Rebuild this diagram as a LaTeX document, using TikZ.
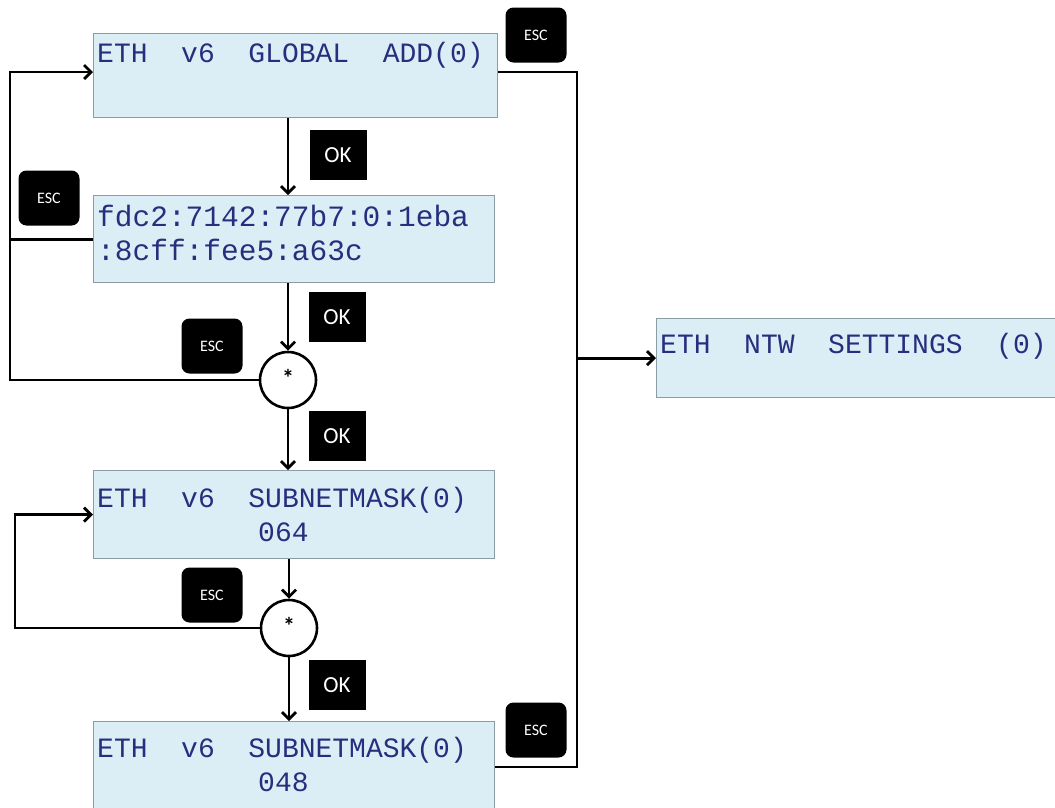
\documentclass[tikz,border=0pt]{standalone}
\usepackage{fontspec}
\setmainfont{Carlito}
\newfontfamily\lcdfont{Liberation Mono}
\usetikzlibrary{arrows.meta,calc}
\definecolor{lcdfill}{HTML}{DCEEF5}
\definecolor{lcdborder}{HTML}{8C9CA4}
\definecolor{lcdtext}{HTML}{262E7E}
\begin{document}
\begin{tikzpicture}[x=1pt,y=-1pt,
 lcdbox/.style={rectangle, draw=lcdborder, fill=lcdfill, line width=1.3pt, minimum width=401pt, inner sep=0pt, anchor=north west},
 lcdtxt/.style={text=lcdtext, font=\lcdfont\fontsize{28}{30}\selectfont, anchor=base west, inner sep=0pt},
 lcdtxtb/.style={lcdtxt, font=\lcdfont\fontsize{29.5}{30}\selectfont},
 esckey/.style={fill=black, rounded corners=8pt, minimum width=61pt, minimum height=55pt, text=white, font=\fontsize{16}{17}\selectfont, inner sep=0pt},
 okkey/.style={fill=black, minimum width=57pt, minimum height=50pt, text=white, font=\fontsize{23}{24}\selectfont, inner sep=0pt},
 joint/.style={circle, draw=black, line width=2.6pt, fill=white, minimum size=56pt, inner sep=0pt},
 star/.style={font=\bfseries\fontsize{24}{24}\selectfont, inner sep=0pt},
 conn/.style={line width=2.8pt, draw=black},
 arr/.style={conn, -{Straight Barb[length=7pt,width=14pt,line width=2.8pt]}}
]
\useasboundingbox (0,0) rectangle (1055,807);
\clip (0,0) rectangle (1055,807);

% LCD boxes
\node[lcdbox, minimum width=404pt, minimum height=84pt] (b1) at (93,33) {};
\node[lcdbox, minimum height=87pt] (b2) at (93,195) {};
\node[lcdbox, minimum height=88pt] (b3) at (93,470) {};
\node[lcdbox, minimum height=100pt] (b5) at (93,721) {};
\node[lcdbox, minimum width=420pt, minimum height=79pt] (ntw) at (656,318) {};

% LCD texts
\node[lcdtxt] (t1) at (97,62) {ETH~~v6~~GLOBAL~~ADD(0)};
\node[lcdtxtb] (t2a) at (97,226) {fdc2:7142:77b7:0:1eba};
\node[lcdtxtb] (t2b) at (97,260) {:8cff:fee5:a63c};
\node[lcdtxt] (t3a) at (97,507) {ETH~~v6~~SUBNETMASK(0)};
\node[lcdtxt] (t3b) at (258,541) {064};
\node[lcdtxt] (t5a) at (97,757) {ETH~~v6~~SUBNETMASK(0)};
\node[lcdtxt] (t5b) at (258,791) {048};
\node[lcdtxt] (tn) at (660,353) {ETH~~NTW~~SETTINGS~~(0)};

% joints
\node[joint] (c1) at (288,380) {};
\node[joint] (c2) at (289,628) {};
\node[star] (s1) at ($(c1)+(0,-2)$) {*};
\node[star] (s2) at ($(c2)+(0,-2)$) {*};

% keys
\node[esckey] (esc1) at (536,35) {ESC};
\node[okkey] (ok1) at (338,155) {OK};
\node[esckey] (esc2) at (49,198) {ESC};
\node[okkey] (ok2) at (337,317) {OK};
\node[esckey] (esc3) at (212,346) {ESC};
\node[okkey] (ok3) at (337,436) {OK};
\node[esckey] (esc4) at (212,595) {ESC};
\node[okkey] (ok4) at (337,685) {OK};
\node[esckey] (esc5) at (536,730) {ESC};

% helper coordinates
\coordinate (L1) at (10,0);
\coordinate (L2) at (15,0);
\coordinate (R) at (577,0);
\coordinate (b1in) at ($(b1.north west)+(0,39)$);
\coordinate (b1out) at ($(b1.north east)+(0,39)$);
\coordinate (b5out) at ($(b5.north east)+(0,46)$);

% vertical OK flow
\draw[arr] (b1.south -| c1) -- (b2.north -| c1);
\draw[arr] (b2.south -| c1) -- (c1.north);
\draw[arr] (c1.south) -- (b3.north -| c1);
\draw[arr] (b3.south -| c2) -- (c2.north);
\draw[arr] (c2.south) -- (b5.north -| c2);

% ESC loops
\draw[arr] (c1.west) -- (c1.west -| L1) |- (b1in);
\draw[conn] (b2.west) -- (b2.west -| L1);
\draw[arr] (c2.west) -- (c2.west -| L2) |- (b3.west);

% ESC exits to network settings
\draw[conn] (b1out) -- (b1out -| R) -- (b5out -| R) -- (b5out);
\draw[arr] (ntw.west -| R) -- (ntw.west);
\end{tikzpicture}
\end{document}
